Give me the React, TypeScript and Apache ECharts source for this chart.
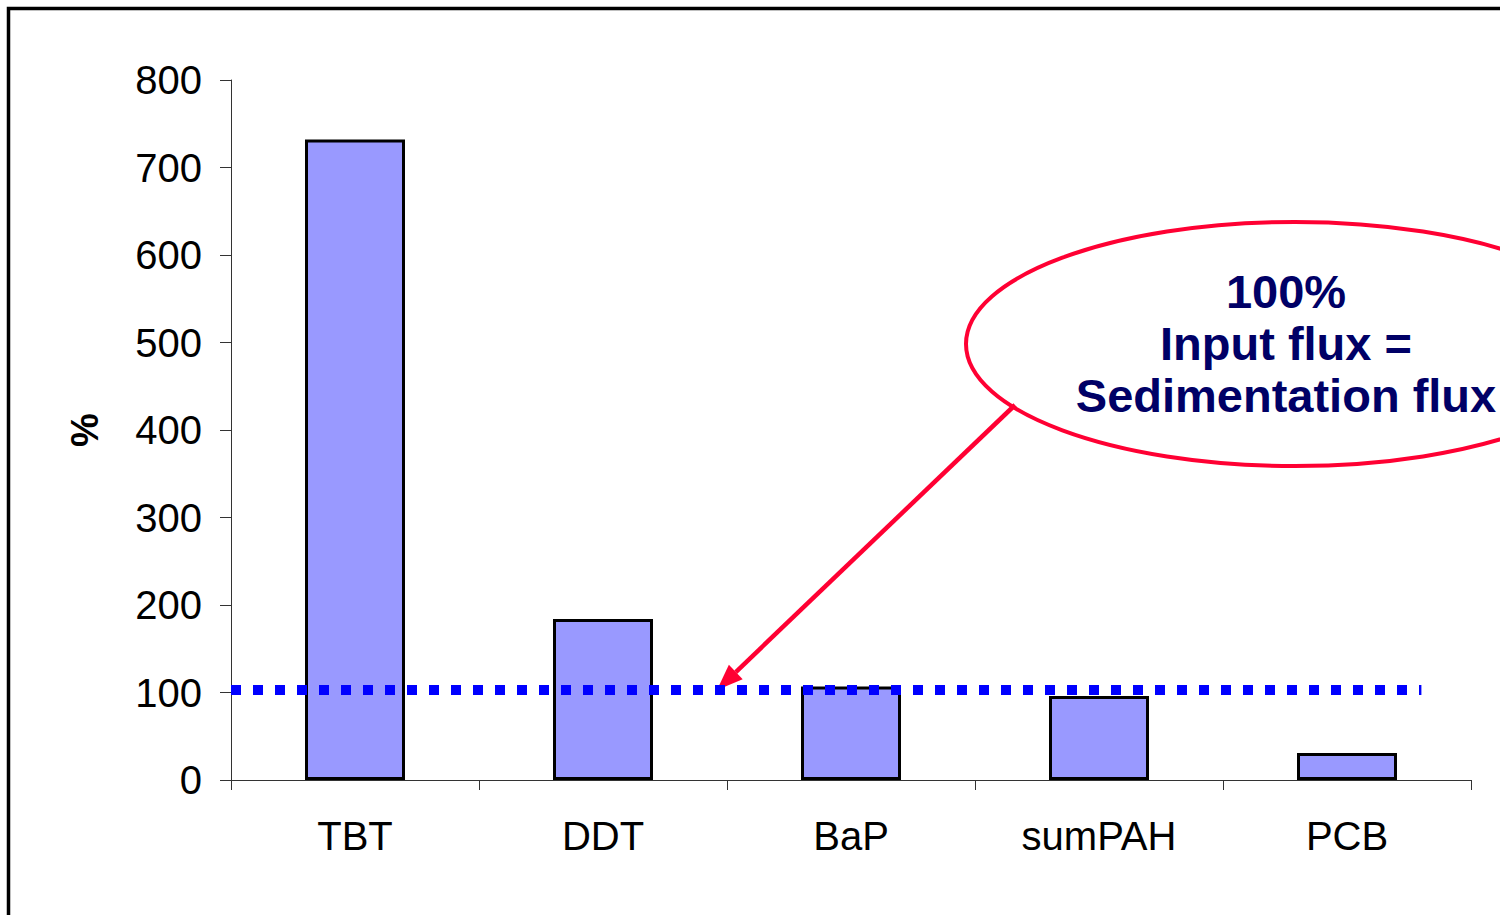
import React, { useEffect, useRef } from "react";
import * as echarts from "echarts";

const categories = ["TBT", "DDT", "BaP", "sumPAH", "PCB"];
const percentValues = [732, 184, 107, 96, 31];
const referenceLine = [
  [0, 103],
  [4.8, 103],
];
const yTicks = { min: 0, max: 800, interval: 100 };
const calloutLines = ["100%", "Input flux =", "Sedimentation flux"];

export default function App() {
  const ref = useRef<HTMLDivElement>(null);

  useEffect(() => {
    document.body.style.margin = "0";
    if (!ref.current) return;
    const chart = echarts.init(ref.current, null, { renderer: "svg" });

    // arrow geometry
    const tail = [1015, 405];
    const tip = [717, 690];
    const dx = tip[0] - tail[0];
    const dy = tip[1] - tail[1];
    const len = Math.sqrt(dx * dx + dy * dy);
    const ux = dx / len;
    const uy = dy / len;
    const headLen = 26;
    const headHalf = 10;
    const bx = tip[0] - ux * headLen;
    const by = tip[1] - uy * headLen;
    const px = -uy * headHalf;
    const py = ux * headHalf;

    chart.setOption({
      animation: false,
      backgroundColor: "#ffffff",
      grid: { left: 231, right: 29, top: 80, bottom: 135 },
      xAxis: [
        {
          type: "category",
          data: categories,
          axisLine: { lineStyle: { color: "#333333", width: 1 } },
          axisTick: { show: true, length: 10, lineStyle: { color: "#333333" } },
          axisLabel: {
            color: "#000000",
            fontSize: 40,
            fontFamily: "Liberation Sans",
            margin: 36,
          },
        },
        {
          type: "value",
          min: 0,
          max: 5,
          show: false,
        },
      ],
      yAxis: {
        type: "value",
        min: yTicks.min,
        max: yTicks.max,
        interval: yTicks.interval,
        name: "%",
        nameLocation: "middle",
        nameGap: 127,
        nameRotate: 90,
        nameTextStyle: {
          color: "#000000",
          fontSize: 38,
          fontWeight: "bold",
          fontFamily: "Liberation Sans",
        },
        splitLine: { show: false },
        axisLine: { show: true, lineStyle: { color: "#333333", width: 1 } },
        axisTick: { show: true, length: 11, lineStyle: { color: "#333333" } },
        axisLabel: {
          color: "#000000",
          fontSize: 40,
          fontFamily: "Liberation Sans",
          margin: 29,
        },
      },
      series: [
        {
          type: "bar",
          data: percentValues,
          barWidth: 100,
          itemStyle: {
            color: "#9999FF",
            borderColor: "#000000",
            borderWidth: 3,
          },
          z: 2,
        },
        {
          type: "line",
          xAxisIndex: 1,
          data: referenceLine,
          symbol: "none",
          lineStyle: {
            color: "#0000FF",
            width: 10,
            type: [10, 12],
            cap: "butt",
          },
          z: 5,
        },
      ],
      graphic: [
        {
          type: "rect",
          shape: { x: 8.5, y: 8.5, width: 1700, height: 1100 },
          style: { fill: "none", stroke: "#000000", lineWidth: 3.5 },
          silent: true,
        },
        {
          type: "ellipse",
          shape: { cx: 1295, cy: 344, rx: 329, ry: 122 },
          style: { fill: "none", stroke: "#FF0033", lineWidth: 4 },
          silent: true,
        },
        {
          type: "line",
          shape: { x1: tail[0], y1: tail[1], x2: bx, y2: by },
          style: { stroke: "#FF0033", lineWidth: 4.5 },
          silent: true,
        },
        {
          type: "polygon",
          shape: {
            points: [
              [tip[0], tip[1]],
              [bx + px, by + py],
              [bx - px, by - py],
            ],
          },
          style: { fill: "#FF0033" },
          silent: true,
        },
        {
          type: "text",
          x: 1286,
          y: 343,
          style: {
            text: calloutLines.join("\n"),
            fill: "#000066",
            font: "bold 47px 'Liberation Sans'",
            fontSize: 47,
            fontWeight: "bold",
            fontFamily: "Liberation Sans",
            lineHeight: 52,
            align: "center",
            verticalAlign: "middle",
          },
          silent: true,
        },
      ],
    });

    return () => chart.dispose();
  }, []);

  return <div ref={ref} style={{ width: 1500, height: 915 }} />;
}
